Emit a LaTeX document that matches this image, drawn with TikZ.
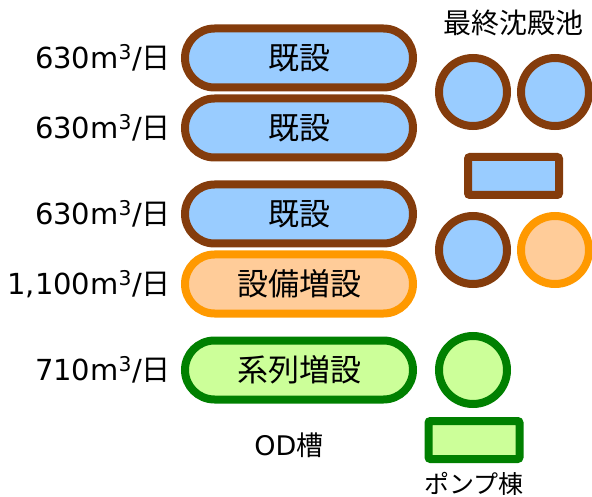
\documentclass[tikz,border=0pt]{standalone}
\usepackage{fontspec}
\setmainfont{DejaVu Sans}
\newfontfamily\jp{Noto Sans CJK JP}
\definecolor{brn}{HTML}{843C0C}
\definecolor{lblue}{HTML}{99CCFF}
\definecolor{org}{HTML}{FF9900}
\definecolor{lorg}{HTML}{FFCC99}
\definecolor{grn}{HTML}{008000}
\definecolor{lgrn}{HTML}{CCFF99}
\begin{document}
\begin{tikzpicture}[x=1pt,y=-1pt,
  tank/.style={draw, line width=8pt, minimum width=228pt, minimum height=59pt, rounded corners=29.5pt, inner sep=0pt, font=\fontsize{31}{31}\selectfont\jp},
  pool/.style={draw, circle, line width=8pt, minimum size=68pt, inner sep=0pt},
  box/.style={draw, rectangle, line width=8pt, minimum width=91pt, minimum height=38pt, rounded corners=2pt, inner sep=0pt},
  qty/.style={anchor=east, inner sep=0pt, font=\fontsize{29}{29}\selectfont},
  title/.style={inner sep=0pt, font=\fontsize{28}{28}\selectfont\jp},
  brownst/.style={draw=brn, fill=lblue},
  orangest/.style={draw=org, fill=lorg},
  greenst/.style={draw=grn, fill=lgrn}]
\useasboundingbox (0,0) rectangle (592,497);
% OD tanks
\node[tank, brownst] (t1) at (299,58) {既設};
\node[tank, brownst] (t2) at (299,128) {既設};
\node[tank, brownst] (t3) at (299,214) {既設};
\node[tank, orangest] (t4) at (299,284) {設備増設};
\node[tank, greenst] (t5) at (299,370) {系列増設};
% capacity labels
\node[qty] (c1) at (171,58) {630m\textsuperscript{3}/{\jp 日}};
\node[qty] (c2) at (171,128) {630m\textsuperscript{3}/{\jp 日}};
\node[qty] (c3) at (171,214) {630m\textsuperscript{3}/{\jp 日}};
\node[qty] (c4) at (171,284) {1,100m\textsuperscript{3}/{\jp 日}};
\node[qty] (c5) at (171,370) {710m\textsuperscript{3}/{\jp 日}};
\node[title, font=\fontsize{27}{27}\selectfont] (od) at (289,445) {OD{\jp 槽}};
% final sedimentation tanks
\node[title] (fs) at (513,23) {最終沈殿池};
\node[pool, brownst] (p1) at (473,92) {};
\node[pool, brownst] (p2) at (555,92) {};
\node[box, brownst] (b1) at (513.5,176) {};
\node[pool, brownst] (p3) at (473,250) {};
\node[pool, orangest] (p4) at (555,250) {};
\node[pool, greenst] (p5) at (473,370) {};
\node[box, greenst] (b2) at (474,440) {};
\node[title, font=\fontsize{25}{25}\selectfont\jp] (pump) at (474,484) {ポンプ棟};
\end{tikzpicture}
\end{document}
